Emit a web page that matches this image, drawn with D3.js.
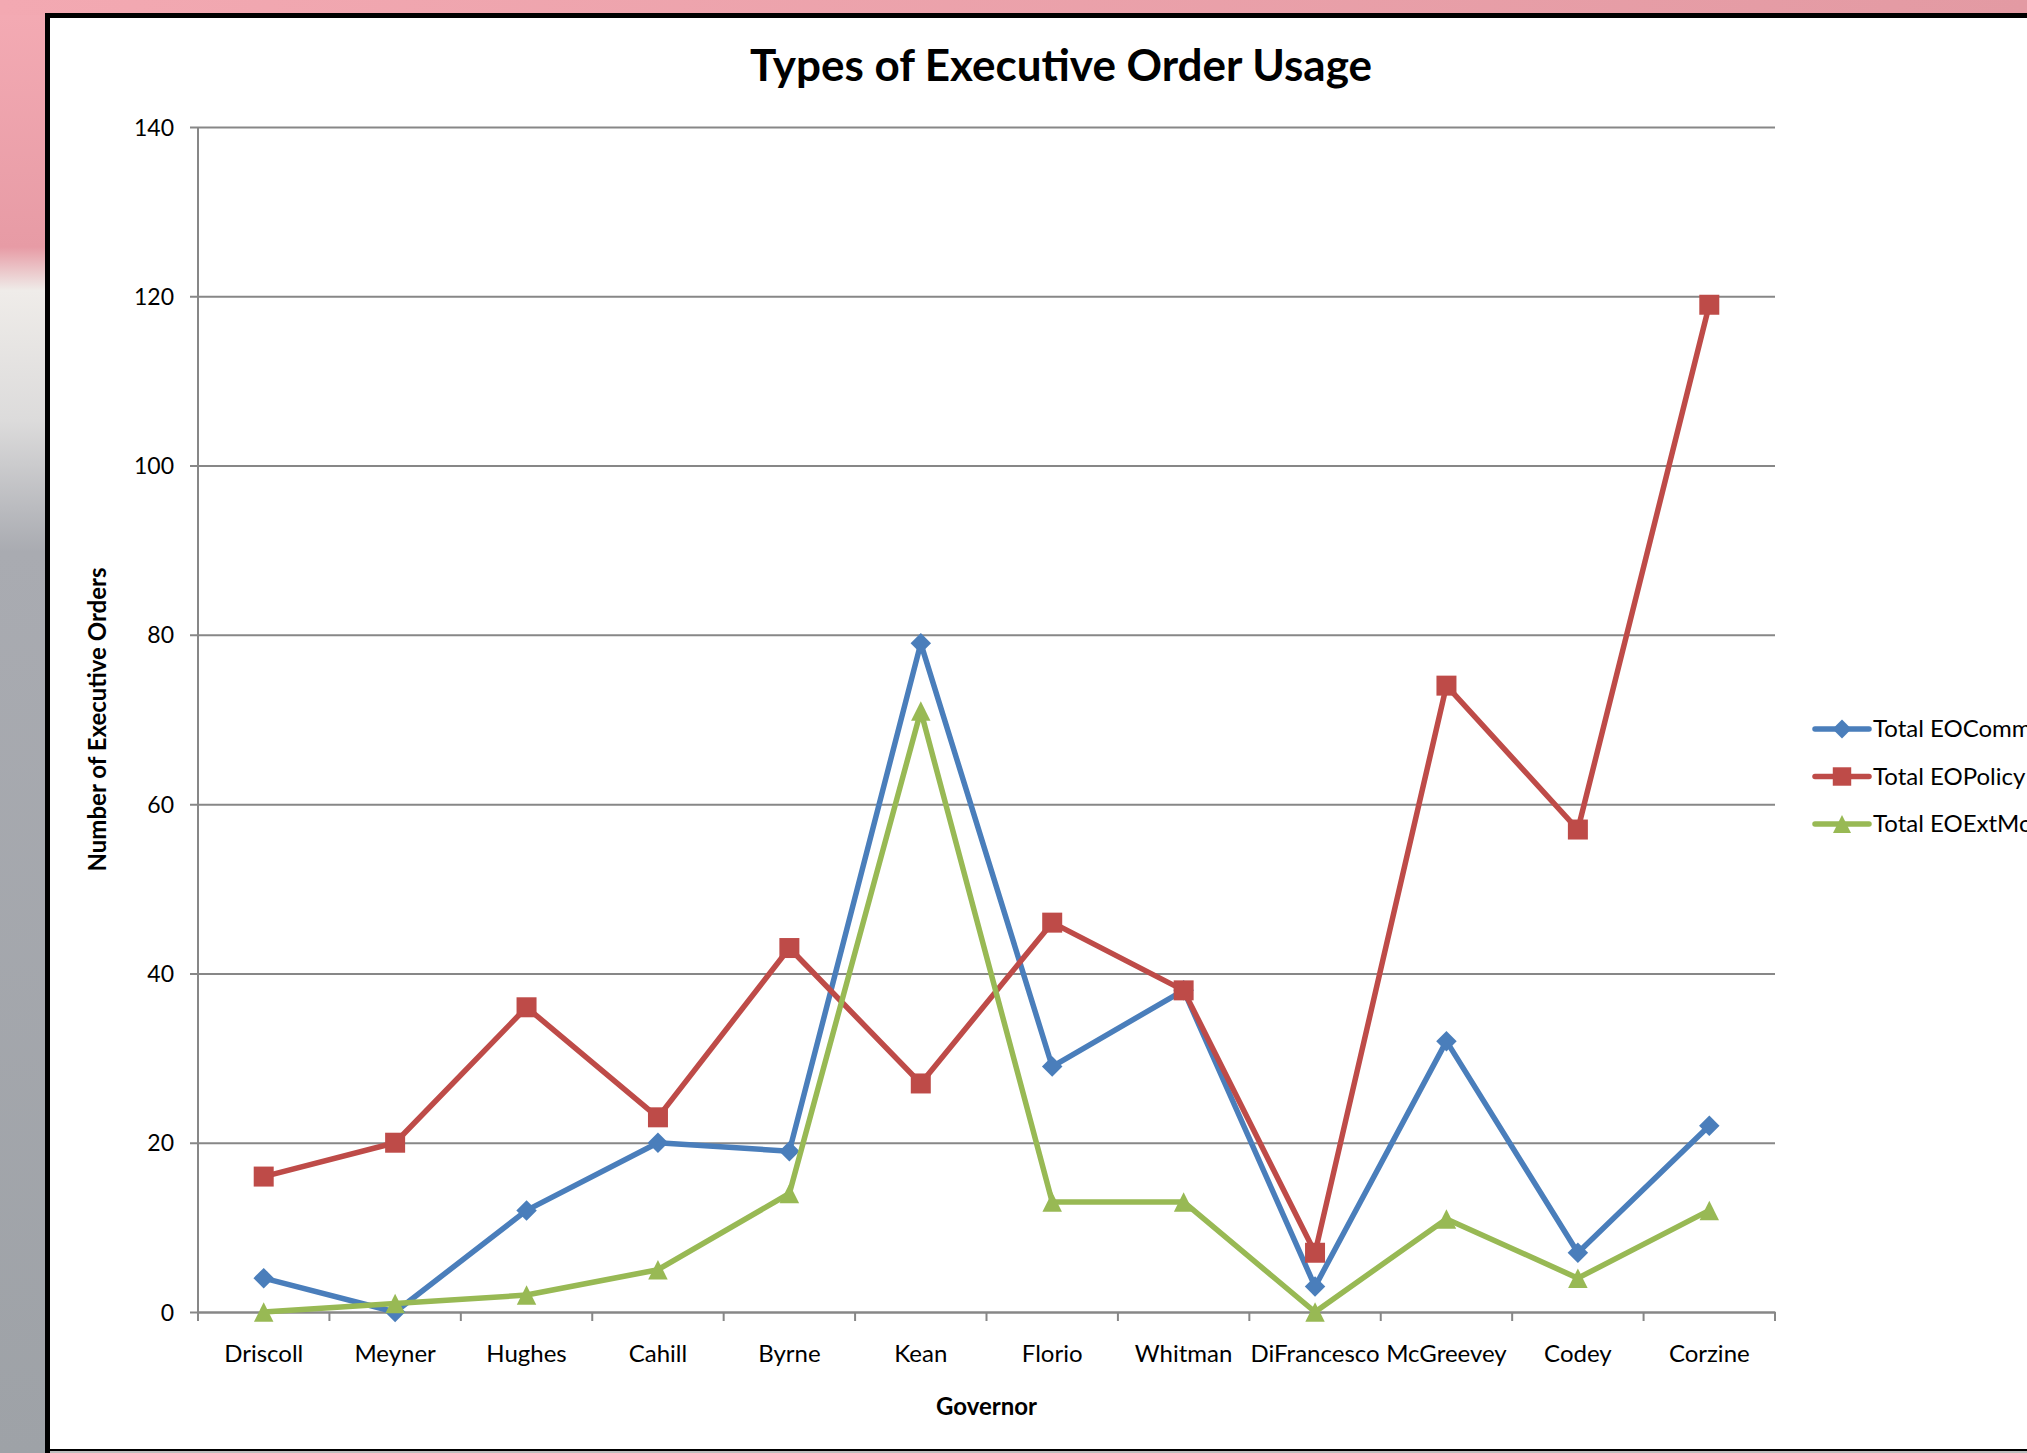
<!DOCTYPE html>
<meta charset="utf-8">
<script src="https://cdnjs.cloudflare.com/ajax/libs/d3/7.8.5/d3.min.js"></script>
<style>
  body { margin: 0; overflow: hidden; background: #9ea2a8; }
  text { font-family: Lato, "Open Sans", sans-serif; fill: #000; }
</style>
<div id="chart"></div>
<script>

  // governors (x categories)
  const governors = ['Driscoll', 'Meyner', 'Hughes', 'Cahill', 'Byrne', 'Kean', 'Florio',
    'Whitman', 'DiFrancesco', 'McGreevey', 'Codey', 'Corzine']

  // series values
  const eoComm = [4, 0, 12, 20, 19, 79, 29, 38, 3, 32, 7, 22]
  const eoPolicy = [16, 20, 36, 23, 43, 27, 46, 38, 7, 74, 57, 119]
  const eoExtMod = [0, 1, 2, 5, 14, 71, 13, 13, 0, 11, 4, 12]

  const seriesNames = ['Total EOCommission', 'Total EOPolicy', 'Total EOExtMod']
  const yTicks = [0, 20, 40, 60, 80, 100, 120, 140]

  const W = 2027, H = 1453
  const margin = { top: 127, right: 252, bottom: 141, left: 198 }
  const width = W - margin.left - margin.right
  const height = H - margin.top - margin.bottom

  const svg = d3.select('#chart').append('svg')
    .attr('width', W).attr('height', H)

  // photo-like backdrop behind the chart frame
  const defs = svg.append('defs')
  const lg = defs.append('linearGradient').attr('id', 'leftbg')
    .attr('x1', 0).attr('y1', 0).attr('x2', 0).attr('y2', 1)
  lg.append('stop').attr('offset', '0%').attr('stop-color', '#f4abb4')
  lg.append('stop').attr('offset', '17%').attr('stop-color', '#e79ba5')
  lg.append('stop').attr('offset', '20%').attr('stop-color', '#efece9')
  lg.append('stop').attr('offset', '29%').attr('stop-color', '#dcdbdb')
  lg.append('stop').attr('offset', '38%').attr('stop-color', '#a9abb1')
  lg.append('stop').attr('offset', '100%').attr('stop-color', '#9ea2a7')
  const tg = defs.append('linearGradient').attr('id', 'topbg')
  tg.append('stop').attr('offset', '0%').attr('stop-color', '#f3a9b2')
  tg.append('stop').attr('offset', '100%').attr('stop-color', '#e39aa3')

  svg.append('rect').attr('x', 0).attr('y', 0).attr('width', 50).attr('height', H).attr('fill', 'url(#leftbg)')
  svg.append('rect').attr('x', 0).attr('y', 0).attr('width', W).attr('height', 15).attr('fill', 'url(#topbg)')

  // chart frame
  svg.append('rect')
    .attr('x', 47.5).attr('y', 15.5).attr('width', W + 20).attr('height', H - 17)
    .attr('fill', '#fff').attr('stroke', '#000').attr('stroke-width', 5)
  svg.append('line').attr('x1', 50).attr('x2', W).attr('y1', H - 1).attr('y2', H - 1)
    .attr('stroke', '#bdbdbd').attr('stroke-width', 2)

  const g = svg.append('g').attr('transform', `translate(${margin.left},${margin.top})`)

  const x = d3.scaleBand().domain(governors).range([0, width])
  const y = d3.scaleLinear().domain([0, 140]).range([height, 0])

  // gridlines + y axis
  const yAxis = g.append('g')
    .call(d3.axisLeft(y).tickValues(yTicks).tickSize(-width).tickSizeOuter(0).tickPadding(0))
  yAxis.select('.domain').remove()
  yAxis.selectAll('.tick line').attr('x1', -8).attr('stroke', '#878787').attr('stroke-width', 2)
  yAxis.selectAll('.tick text').attr('x', -24).attr('font-size', 23).attr('dy', '0.35em')
  g.append('line').attr('x1', 0).attr('x2', 0).attr('y1', 0).attr('y2', height + 9)
    .attr('stroke', '#878787').attr('stroke-width', 2)

  // x axis
  const xAxis = g.append('g').attr('transform', `translate(0,${height})`)
    .call(d3.axisBottom(x).tickSize(0).tickPadding(0))
  xAxis.select('.domain').attr('stroke', '#878787').attr('stroke-width', 2)
  xAxis.selectAll('.tick text').attr('y', 42).attr('dy', '0.35em').attr('font-size', 24)
  xAxis.selectAll('.bound')
    .data(governors.map(d => x(d)).concat([width]))
    .join('line')
    .attr('x1', d => d).attr('x2', d => d).attr('y1', 0).attr('y2', 9)
    .attr('stroke', '#878787').attr('stroke-width', 2)

  // Excel-style triangle: box-centred, about as tall as it is wide
  const triangle = {
    draw(ctx, size) {
      const w = Math.sqrt(size)
      ctx.moveTo(0, -w / 2)
      ctx.lineTo(w / 2, w / 2)
      ctx.lineTo(-w / 2, w / 2)
      ctx.closePath()
    }
  }

  const series = [
    { name: seriesNames[0], values: eoComm, color: '#4a7ebb', symbol: d3.symbolSquare, size: 210, rot: 45 },
    { name: seriesNames[1], values: eoPolicy, color: '#be4b48', symbol: d3.symbolSquare, size: 400, rot: 0 },
    { name: seriesNames[2], values: eoExtMod, color: '#98b954', symbol: triangle, size: 380, rot: 0 }
  ]

  const line = d3.line()
    .x((d, i) => x(governors[i]) + x.bandwidth() / 2)
    .y(d => y(d))

  series.forEach(s => {
    g.append('path').datum(s.values)
      .attr('fill', 'none').attr('stroke', s.color).attr('stroke-width', 5.5)
      .attr('stroke-linejoin', 'round').attr('d', line)
    g.selectAll(null).data(s.values).join('path')
      .attr('transform', (d, i) => `translate(${x(governors[i]) + x.bandwidth() / 2},${y(d)}) rotate(${s.rot})`)
      .attr('d', d3.symbol().type(s.symbol).size(s.size))
      .attr('fill', s.color)
  })

  // titles
  svg.append('text').attr('x', 1061).attr('y', 81)
    .attr('text-anchor', 'middle').attr('font-size', 44).attr('font-weight', 700)
    .text('Types of Executive Order Usage')
  svg.append('text').attr('transform', `translate(106,${margin.top + height / 2}) rotate(-90)`)
    .attr('text-anchor', 'middle').attr('font-size', 24).attr('font-weight', 700)
    .text('Number of Executive Orders')
  svg.append('text').attr('x', margin.left + width / 2).attr('y', 1415)
    .attr('text-anchor', 'middle').attr('font-size', 24).attr('font-weight', 700)
    .text('Governor')

  // legend
  const legend = svg.append('g').attr('transform', 'translate(1815,729)')
  series.forEach((s, i) => {
    const row = legend.append('g').attr('transform', `translate(0,${i * 47.5})`)
    row.append('line').attr('x1', 0).attr('x2', 54).attr('stroke', s.color)
      .attr('stroke-width', 5.5).attr('stroke-linecap', 'round')
    row.append('path').attr('transform', `translate(27,0) rotate(${s.rot})`)
      .attr('d', d3.symbol().type(s.symbol).size(s.size * 0.85)).attr('fill', s.color)
    row.append('text').attr('x', 58).attr('dy', '0.35em').attr('font-size', 24).text(s.name)
  })

</script>
